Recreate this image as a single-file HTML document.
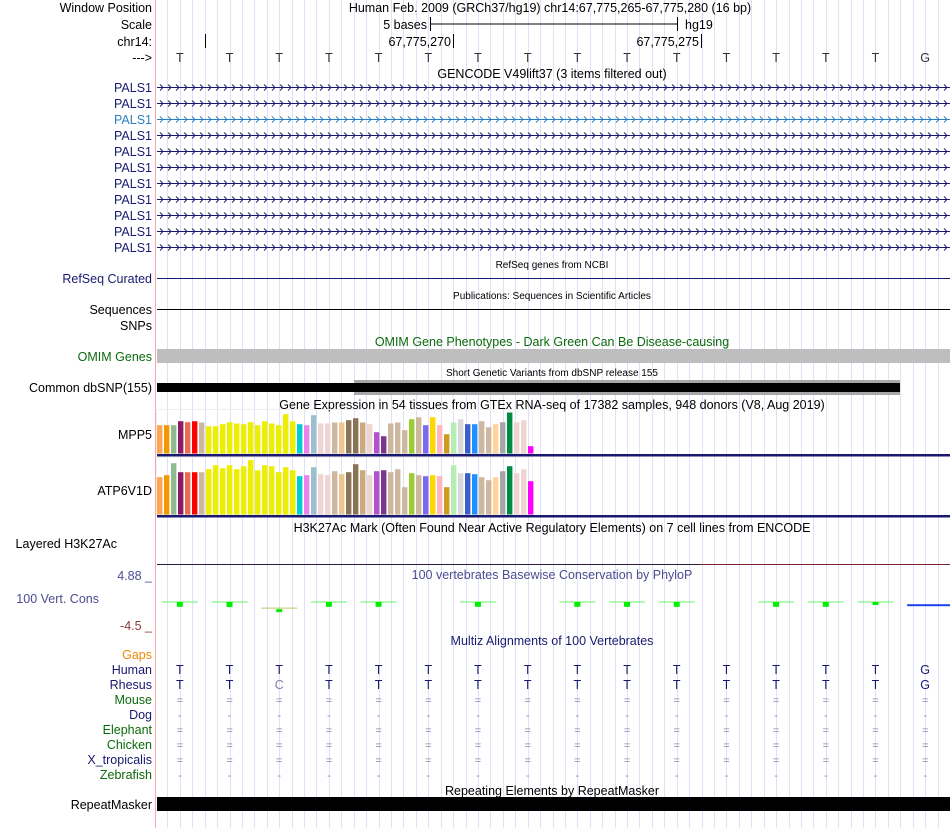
<!DOCTYPE html>
<html><head><meta charset="utf-8"><style>
html,body{margin:0;padding:0;background:#fff;width:950px;height:828px;overflow:hidden}
svg{display:block;font-family:"Liberation Sans",Arial,sans-serif}
</style></head><body>
<svg id="browser" width="950" height="828" viewBox="0 0 950 828" xmlns="http://www.w3.org/2000/svg">
<g id="grid"></g>
<rect x="155" y="0" width="1" height="828" fill="#f6a8a8"/>

<g font-size="12.5" fill="#000" text-anchor="end">
<text x="152" y="12">Window Position</text>
<text x="152" y="29">Scale</text>
<text x="152" y="46">chr14:</text>
<text x="152" y="62">---&gt;</text>
<text x="152" y="283" fill="#191970">RefSeq Curated</text>
<text x="152" y="314">Sequences</text>
<text x="152" y="330">SNPs</text>
<text x="152" y="361" fill="#0b6a0b">OMIM Genes</text>
<text x="152" y="392">Common dbSNP(155)</text>
<text x="152" y="439">MPP5</text>
<text x="152" y="495">ATP6V1D</text>
<text x="117" y="548">Layered H3K27Ac</text>
<text x="152" y="580" fill="#4c4c90">4.88 _</text>
<text x="99" y="603" fill="#4c4c90">100 Vert. Cons</text>
<text x="152" y="630" fill="#8b3a3a">-4.5 _</text>
<text x="152" y="659" fill="#ee8800">Gaps</text>
<text x="152" y="674" fill="#191970">Human</text>
<text x="152" y="689" fill="#191970">Rhesus</text>
<text x="152" y="704" fill="#0b6a0b">Mouse</text>
<text x="152" y="719" fill="#191970">Dog</text>
<text x="152" y="734" fill="#0b6a0b">Elephant</text>
<text x="152" y="749" fill="#0b6a0b">Chicken</text>
<text x="152" y="764" fill="#191970">X_tropicalis</text>
<text x="152" y="779" fill="#0b6a0b">Zebrafish</text>
<text x="152" y="809">RepeatMasker</text>
</g>
<g id="palsLabels" font-size="12.5" text-anchor="end"></g>

<g font-size="12.5" text-anchor="middle">
<text x="550" y="12">Human Feb. 2009 (GRCh37/hg19)   chr14:67,775,265-67,775,280 (16 bp)</text>
<text x="552" y="78">GENCODE V49lift37 (3 items filtered out)</text>
<text x="552" y="268" font-size="10">RefSeq genes from NCBI</text>
<text x="552" y="299" font-size="10">Publications: Sequences in Scientific Articles</text>
<text x="552" y="346" fill="#0b6a0b">OMIM Gene Phenotypes - Dark Green Can Be Disease-causing</text>
<text x="552" y="376" font-size="10">Short Genetic Variants from dbSNP release 155</text>
<text x="552" y="409">Gene Expression in 54 tissues from GTEx RNA-seq of 17382 samples, 948 donors (V8, Aug 2019)</text>
<text x="552" y="532">H3K27Ac Mark (Often Found Near Active Regulatory Elements) on 7 cell lines from ENCODE</text>
<text x="552" y="579" fill="#4c4c90">100 vertebrates Basewise Conservation by PhyloP</text>
<text x="552" y="645" fill="#191970">Multiz Alignments of 100 Vertebrates</text>
<text x="552" y="795">Repeating Elements by RepeatMasker</text>
</g>

<g font-size="12.5">
<text x="427" y="29" text-anchor="end">5 bases</text>
<line x1="430" y1="24" x2="677" y2="24" stroke="#000"/>
<line x1="430.5" y1="17" x2="430.5" y2="31" stroke="#000"/>
<line x1="677.5" y1="17" x2="677.5" y2="31" stroke="#000"/>
<text x="685" y="29">hg19</text>
<line x1="205.5" y1="34" x2="205.5" y2="48" stroke="#000"/>
<text x="451" y="46" text-anchor="end">67,775,270</text>
<line x1="453.5" y1="34" x2="453.5" y2="48" stroke="#000"/>
<text x="699" y="46" text-anchor="end">67,775,275</text>
<line x1="701.5" y1="34" x2="701.5" y2="48" stroke="#000"/>
</g>
<g id="bases" font-size="12.5" fill="#333" text-anchor="middle"></g>
<g id="pals"></g>

<line x1="157" y1="278.5" x2="950" y2="278.5" stroke="#191970"/>
<line x1="157" y1="309.5" x2="950" y2="309.5" stroke="#000"/>
<rect x="157" y="349" width="793" height="14" fill="#bebebe"/>
<rect x="354" y="380" width="546" height="15" fill="#a8a8a8"/>
<rect x="157" y="383" width="743" height="9" fill="#000"/>

<g id="gtex1"></g>
<g id="gtex2"></g>
<rect x="157" y="454" width="793" height="2.5" fill="#191970"/>
<rect x="157" y="515" width="793" height="2.5" fill="#191970"/>

<line x1="157" y1="564.5" x2="700" y2="564.5" stroke="#2e1a3a"/>
<line x1="700" y1="564.5" x2="950" y2="564.5" stroke="#7a2430"/>
<g id="cons"></g>
<g id="multiz" font-size="12.5" text-anchor="middle"></g>
<rect x="157" y="797" width="793" height="14" fill="#000"/>
</svg>
<script>
// ---- data ----
const refBases = ["T","T","T","T","T","T","T","T","T","T","T","T","T","T","T","G"];
const rhesusBases = ["T","T","C","T","T","T","T","T","T","T","T","T","T","T","T","G"];
const palsColors = ["#191970","#191970","#2a7fbf","#191970","#191970","#191970","#191970","#191970","#191970","#191970","#191970"];
const gtexColors = ["#FFA54F","#EE9A00","#8FBC8F","#8B1C62","#EE6A50","#FF0000","#CDB79E",
 "#EEEE00","#EEEE00","#EEEE00","#EEEE00","#EEEE00","#EEEE00","#EEEE00","#EEEE00","#EEEE00","#EEEE00","#EEEE00","#EEEE00","#EEEE00",
 "#00CDCD","#EE82EE","#9AC0CD","#EED5D2","#EED5D2","#CDB79E","#EEC591","#8B7355","#8B7355","#CDAA7D","#EED5D2",
 "#B452CD","#7A378B","#CDB79E","#CDB79E","#CDB79E","#9ACD32","#CDB79E","#7B68EE","#FFD700","#FFB6C1","#CD9B1D",
 "#B4EEB4","#D9D9D9","#3A5FCD","#1E90FF","#CDB79E","#CDB79E","#FFD39B","#A6A6A6","#008B45","#EED5D2","#EED5D2","#FF00FF"];
const gtexMpp5 = [28.3,28.3,28.3,32.3,31.3,32.3,31,27.3,27.3,29.3,31.3,30,29.3,31.3,28.3,32.3,30,28.3,39.3,32.3,
 29.3,28.3,38.3,30,30,31,31,33.3,35.3,31,29.3,21.3,17.3,30,31,23.3,34.3,36.3,28.3,36.3,28.3,19.3,31,34.3,29.3,29.3,32.3,26.3,29.3,31.3,41,31.3,33.3,7.3];
const gtexAtp6v1d = [37.3,39.3,51.3,42.3,42.3,42.3,42.3,45.3,49.3,46.3,49.3,45.3,48.3,54.3,44.3,49.3,48.3,42.3,47.3,44.3,
 38.3,39.3,47.3,40.3,39.3,43.3,40.3,42.3,50.3,44.3,39.3,43.3,44.3,42.3,45.3,27.3,41.3,39.3,38.3,39.3,38.3,27.3,49.3,41.3,41.3,40.3,37.3,34.3,37.3,43.3,48.3,41.3,45.3,33.3];
const phylopValues = [-0.9,-0.95,-1.9,-0.9,-0.9,null,-0.9,null,-0.9,-0.9,-0.9,null,-0.9,-0.9,-0.55,-0.6];
const phylopColors = ["#00ee00","#00ee00","#00ee00","#00ee00","#00ee00",null,"#00ee00",null,"#00ee00","#00ee00","#00ee00",null,"#00ee00","#00ee00","#00ee00","#2040ee"];
const multizRows = ["=","-","=","=","=","-"];

// ---- scales ----
const NS="http://www.w3.org/2000/svg";
const X0=155, BW=795/16;
function xBase(i){return X0+BW*(i+0.5);}
const consTop=576, consBot=626, consMax=4.88, consMin=-4.5;
function yCons(v){return consTop+(consMax-v)*(consBot-consTop)/(consMax-consMin);}
function mk(tag,attrs,parent){const e=document.createElementNS(NS,tag);for(const k in attrs)e.setAttribute(k,attrs[k]);parent.appendChild(e);return e;}

// guidelines
const grid=document.getElementById('grid');
for(let k=1;k<64;k++){
  const x=Math.round(X0+BW/4*k)+0.5;
  const l=mk('line',{x1:x,y1:0,x2:x,y2:828,stroke:'#e0e0f8'},grid);
  
  
}
// reference bases
const bases=document.getElementById('bases');
refBases.forEach((b,i)=>{
  const t=mk('text',{x:xBase(i),y:62},bases);t.textContent=b;
  
  
});
// PALS1 rows
const pals=document.getElementById('pals'), palsL=document.getElementById('palsLabels');
palsColors.forEach((c,r)=>{
  const y=87.5+r*16;
  const t=mk('text',{x:152,y:y+4.5,fill:c},palsL);t.textContent='PALS1';
  
  
  const g=mk('g',{stroke:c,fill:'none'},pals);
  
  
  mk('line',{x1:157,y1:y,x2:950,y2:y},g);
  let d='';
  for(let x=160;x<950;x+=8){d+=`M${x.toFixed(1)} ${y-3}L${(x+3).toFixed(1)} ${y}L${x.toFixed(1)} ${y+3}`;}
  mk('path',{d:d,'stroke-width':0.9},g);
});
// GTEx charts
function gtex(id,vals,base){
  const g=document.getElementById(id);
  const top=base-Math.max(...vals)-3;
  mk('rect',{x:156.5,y:top,width:376,height:base-top,fill:'none',stroke:'#f0f0f0'},g);
  vals.forEach((v,i)=>{
    const r=mk('rect',{x:157+i*7,y:base-v,width:5.4,height:v,fill:gtexColors[i]},g);
    
    
  });
}
gtex('gtex1',gtexMpp5,453.5);
gtex('gtex2',gtexAtp6v1d,514.5);
// PhyloP
const cons=document.getElementById('cons');
const y0=yCons(0);
phylopValues.forEach((v,i)=>{
  if(v===null)return;
  const cx=xBase(i), c=phylopColors[i];
  const y=yCons(v);
  if(c==="#2040ee"){
    const b=mk('rect',{x:cx-18,y:y-1,width:43,height:2,fill:c},cons);
    
    
    return;
  }
  const deep=(y-y0)>7;
  const l=mk('line',{x1:cx-18,y1:deep?y-4:y0,x2:cx+18,y2:deep?y-4:y0,stroke:deep?'#a0a000':c,'stroke-opacity':0.6},cons);
  
  
  const top=deep?y-3:y0, h=deep?3:Math.max(1.5,y-y0);
  const r=mk('rect',{x:cx-3,y:top,width:6,height:h,fill:c},cons);
  
  
});
// Multiz
const mz=document.getElementById('multiz');
refBases.forEach((b,i)=>{
  const x=xBase(i);
  const h=mk('text',{x:x,y:674,fill:'#191970'},mz);h.textContent=b;
  
  
  const rb=rhesusBases[i];
  const r=mk('text',{x:x,y:689,fill:rb===b?'#191970':'#8080b0'},mz);r.textContent=rb;
  
  
  multizRows.forEach((s,k)=>{
    const t=mk('text',{x:x,y:704+k*15,fill:'#8a8ab0','font-size':11},mz);t.textContent=s;
    
    
  });
});
</script>
</body></html>
